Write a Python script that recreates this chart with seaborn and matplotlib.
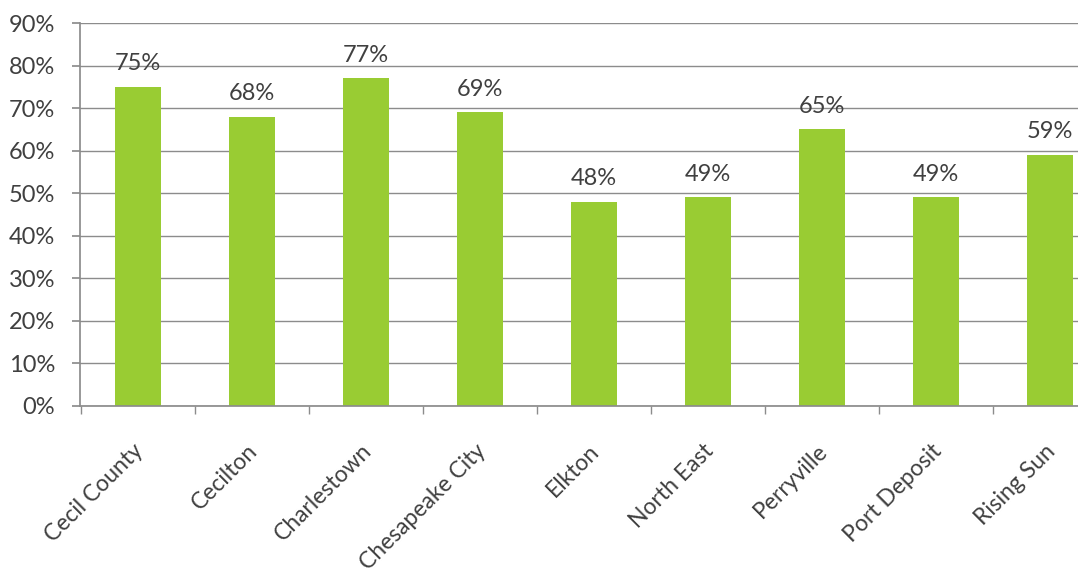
import matplotlib
matplotlib.use("Agg")
import matplotlib.pyplot as plt
import seaborn as sns
import pandas as pd
from matplotlib.ticker import FixedLocator, PercentFormatter
from matplotlib.transforms import ScaledTranslation

categories = ["Cecil County", "Cecilton", "Charlestown", "Chesapeake City", "Elkton",
              "North East", "Perryville", "Port Deposit", "Rising Sun"]
values = [75, 68, 77, 69, 48, 49, 65, 49, 59]
y_ticks = list(range(0, 100, 10))

sns.set_theme(style="white")
plt.rcParams['font.family'] = ['Lato', 'DejaVu Sans']

df = pd.DataFrame({"place": categories, "pct": values})

fig = plt.figure(figsize=(10.78, 5.74), dpi=100)
ax = fig.add_axes([80/1078, (574-406)/574, (1078-80)/1078, (406-23)/574])

sns.barplot(data=df, x="place", y="pct", color="#99CC33", saturation=1, width=0.40, ax=ax)
for p in ax.patches:
    p.set_facecolor("#99CC33")
    p.set_edgecolor("none")

ax.set_xlim(-0.51, 8.245)
ax.set_ylim(0, 90)
ax.yaxis.set_major_locator(FixedLocator(y_ticks))
ax.yaxis.set_major_formatter(PercentFormatter(decimals=0))
ax.grid(axis="y", color="#8C8C8C", linewidth=1.0)
ax.set_axisbelow(True)
for s in ["top", "right"]:
    ax.spines[s].set_visible(False)
ax.spines["left"].set_color("#8C8C8C")
ax.spines["bottom"].set_color("#8C8C8C")
ax.set_xlabel("")
ax.set_ylabel("")

ax.tick_params(axis="y", which="major", left=True, length=6, color="#8C8C8C",
               labelsize=17, labelcolor="#404040", pad=12)
ax.set_xticks(range(len(categories)))
ax.set_xticklabels(categories, rotation=45, ha="right", va="center", rotation_mode="anchor")
ax.tick_params(axis="x", which="major", bottom=False, length=0, labelsize=16.5,
               labelcolor="#404040", pad=30)
shift = ScaledTranslation(2/100, 0, fig.dpi_scale_trans)
for lab in ax.get_xticklabels():
    lab.set_transform(lab.get_transform() + shift)
ax.xaxis.set_minor_locator(FixedLocator([i + 0.5 for i in range(-1, len(categories))]))
ax.tick_params(axis="x", which="minor", bottom=True, length=6, color="#8C8C8C")

for i, v in enumerate(values):
    ax.text(i, v + 3, f"{v}%", ha="center", va="bottom", fontsize=17, color="#404040")

fig.savefig("out.png", dpi=100)
